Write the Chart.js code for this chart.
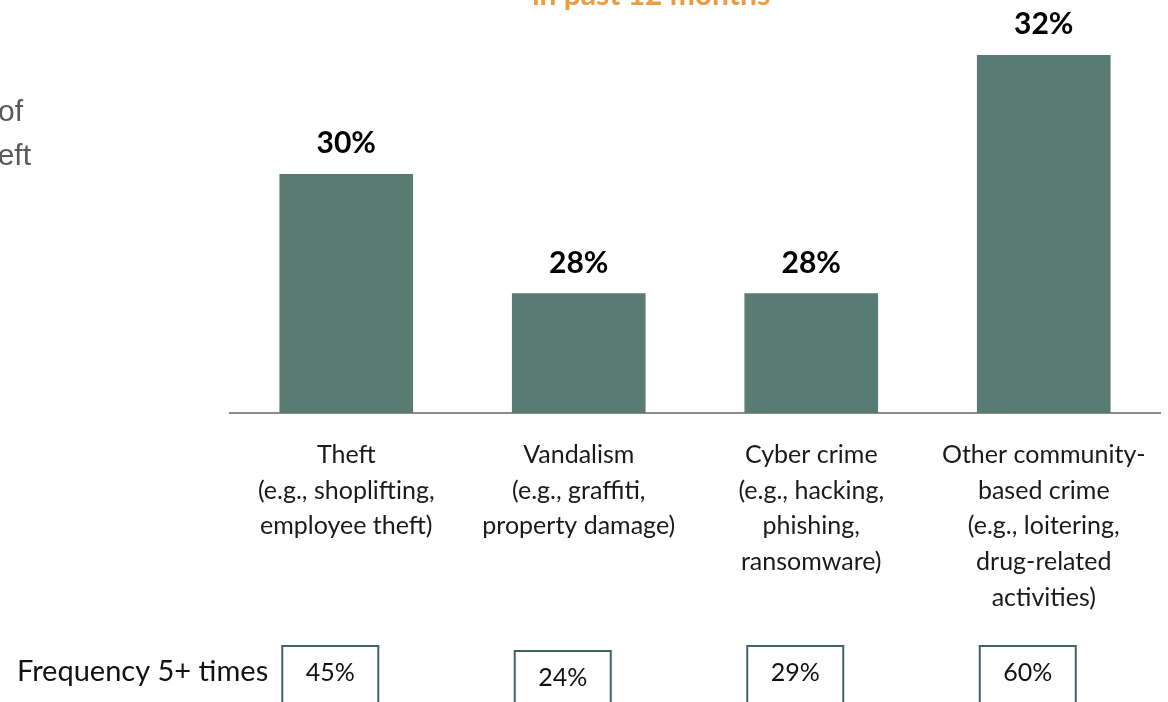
<!DOCTYPE html>
<html>
<head>
<meta charset="utf-8">
<script src="https://cdn.jsdelivr.net/npm/chart.js@4"></script>
<style>
  html, body { margin: 0; padding: 0; background: #fff; overflow: hidden; }
  #wrap { width: 1168px; height: 702px; position: relative; }
</style>
</head>
<body>
<div id="wrap"><canvas id="chart" width="1168" height="702"></canvas></div>
<script>
const categories = [
    ['Theft', '(e.g., shoplifting,', 'employee theft)'],
    ['Vandalism', '(e.g., graffiti,', 'property damage)'],
    ['Cyber crime', '(e.g., hacking,', 'phishing,', 'ransomware)'],
    ['Other community-', 'based crime', '(e.g., loitering,', 'drug-related', 'activities)']
];
const shareValues = [30, 28, 28, 32];
const frequencyValues = [45, 24, 29, 60];
const frequencyLabel = 'Frequency 5+ times';
const titleText = 'in past 12 months';
const sideText = ['of', 'eft'];

const FONT = 'Lato, "Open Sans", sans-serif';

// extra text, value labels and frequency boxes
const annotations = {
    id: 'annotations',
    afterDatasetsDraw(chart) {
        const ctx = chart.ctx;
        const xs = chart.scales.x;
        const meta = chart.getDatasetMeta(0);
        ctx.save();

        // value labels above bars
        ctx.fillStyle = '#000';
        ctx.font = 'bold 30px ' + FONT;
        ctx.textAlign = 'center';
        ctx.textBaseline = 'alphabetic';
        meta.data.forEach((bar, i) => {
            ctx.fillText(shareValues[i] + '%', bar.x, bar.y - 21);
        });

        // cut off title at top
        ctx.fillStyle = '#EE9A3E';
        ctx.font = 'bold 30px ' + FONT;
        ctx.fillText(titleText, 651, 5);

        // cut off side text at left
        ctx.fillStyle = '#595959';
        ctx.font = '30px "Liberation Sans", Arial, sans-serif';
        ctx.textAlign = 'right';
        ctx.fillText(sideText[0], 23, 121);
        ctx.fillText(sideText[1], 31, 165);

        // frequency row
        ctx.fillStyle = '#111';
        ctx.font = '29px ' + FONT;
        ctx.textAlign = 'left';
        ctx.textBaseline = 'middle';
        ctx.fillText(frequencyLabel, 17, 672);

        ctx.font = '25px ' + FONT;
        ctx.textAlign = 'center';
        ctx.strokeStyle = '#3f6468';
        ctx.lineWidth = 2;
        frequencyValues.forEach((v, i) => {
            const cx = xs.getPixelForValue(i) - 16;
            const top = i === 1 ? 651 : 646;
            ctx.strokeRect(cx - 48, top, 96, 80);
            ctx.fillText(v + '%', cx, top + 27);
        });
        ctx.restore();
    }
};

new Chart(document.getElementById('chart'), {
    type: 'bar',
    data: {
        labels: categories,
        datasets: [{
            data: shareValues,
            backgroundColor: '#587B72',
            barThickness: 133
        }]
    },
    options: {
        responsive: false,
        animation: false,
        layout: { padding: { left: 230, right: 8, top: 55, bottom: 0 } },
        plugins: {
            legend: { display: false },
            tooltip: { enabled: false }
        },
        scales: {
            x: {
                grid: { display: false },
                border: { color: '#8c8c8c', width: 2 },
                ticks: {
                    color: '#1a1a1a',
                    font: { family: FONT, size: 25, lineHeight: 1.43 },
                    padding: 16,
                    maxRotation: 0,
                    autoSkip: false
                },
                afterFit(scale) { scale.height = 702 - 413; }
            },
            y: {
                display: false,
                min: 26,
                max: 32
            }
        }
    },
    plugins: [annotations]
});
</script>
</body>
</html>
